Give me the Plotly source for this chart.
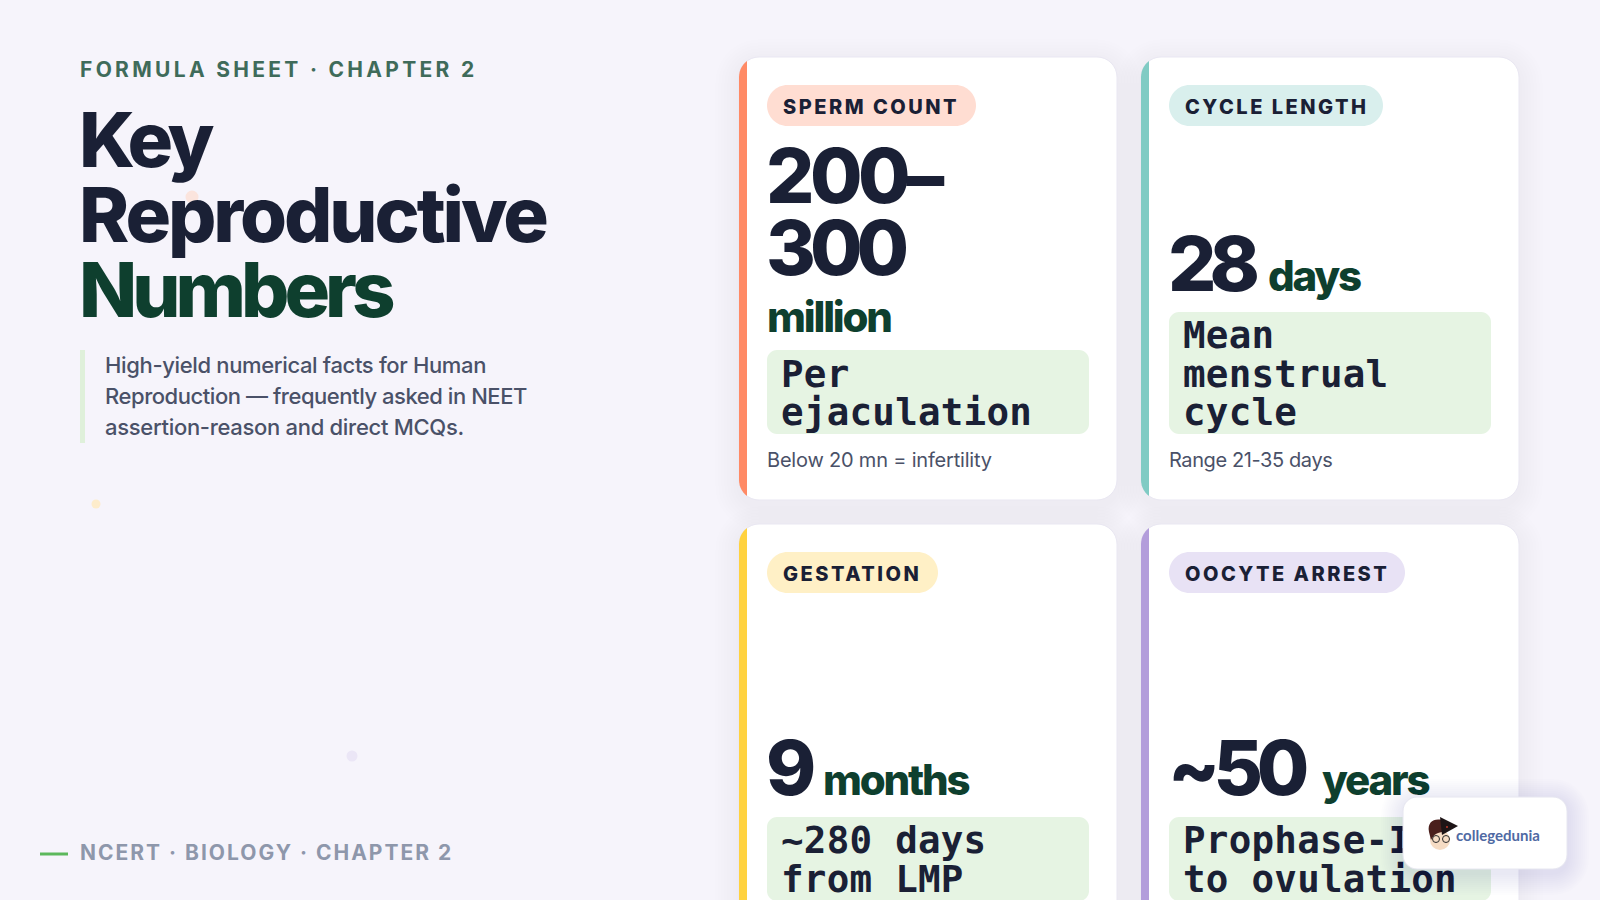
import json
import numpy as np
import plotly.graph_objects as go

# slide text
EYEBROW = "FORMULA SHEET · CHAPTER 2"
TITLE_LINES = ["Key", "Reproductive"]
TITLE_ACCENT = "Numbers"
SUBTITLE_LINES = ["High-yield numerical facts for Human",
                  "Reproduction — frequently asked in NEET",
                  "assertion-reason and direct MCQs."]
FOOTER = "NCERT · BIOLOGY · CHAPTER 2"
LOGO_TEXT = "collegedunia"

# card content
CARD_TAGS = ["SPERM COUNT", "CYCLE LENGTH", "GESTATION", "OOCYTE ARREST"]
CARD_VALUES = [["200–", "300"], ["28"], ["9"], ["~50"]]
CARD_UNITS = ["million", "days", "months", "years"]
CARD_DESCS = [["Per", "ejaculation"], ["Mean", "menstrual", "cycle"],
              ["~280 days", "from LMP"], ["Prophase-I", "to ovulation"]]
CARD_NOTES = ["Below 20 mn = infertility", "Range 21-35 days", "", ""]

# card styling and layout
ACCENTS = ["#ff8a65", "#80cbc4", "#ffd23f", "#b39ddb"]
PILLS = ["#ffddd2", "#d9efed", "#fff0c6", "#e8e2f5"]
PILL_RIGHT = [976, 1383, 938, 1405]
CARD_X = [739, 1141, 739, 1141]
CARD_Y = [57, 57, 524, 524]
VALUE_BASE = [[203, 275], [291], [795], [795]]
VALUE_TRACK = [[-4.5, -6], [-7], [0], [-6.5]]
UNIT_X = [767, 1268, 823, 1322]
UNIT_BASE = [332, 291, 795, 795]
NOTE_TRACK = [-0.2, -0.4, 0, 0]
BOX_TOP = [350, 312, 817, 817]
DESC_BASE = [[387, 425], [348, 387, 425], [853, 892], [853, 892]]

BG = "#f6f4fb"
INK = "#1a2035"
GREEN = "#0e3f2e"
SLATE = "#4a5168"
HEAD_FONT = "Inter"
MONO_FONT = "DejaVu Sans Mono"

fig = go.Figure()
shapes = []
spacing = []


def rounded(x0, y0, x1, y1, r):
    k = r * 0.45
    return (f"M {x0+r} {y0} L {x1-r} {y0} C {x1-k} {y0} {x1} {y0+k} {x1} {y0+r} "
            f"L {x1} {y1-r} C {x1} {y1-k} {x1-k} {y1} {x1-r} {y1} "
            f"L {x0+r} {y1} C {x0+k} {y1} {x0} {y1-k} {x0} {y1-r} "
            f"L {x0} {y0+r} C {x0} {y0+k} {x0+k} {y0} {x0+r} {y0} Z")


def add_round(x0, y0, x1, y1, r, fill, line=None, layer="below"):
    shapes.append(dict(type="path", path=rounded(x0, y0, x1, y1, r), fillcolor=fill, layer=layer,
                       line=dict(color=line or "rgba(0,0,0,0)", width=1 if line else 0)))


def add_dot(cx, cy, r, fill, layer="below"):
    shapes.append(dict(type="circle", x0=cx-r, x1=cx+r, y0=cy-r, y1=cy+r, fillcolor=fill,
                       line=dict(width=0), layer=layer))


def add_shadow(x0, y0, x1, y1, r, dy, reach, step=3, layer="below", alpha=0.004):
    # stacked translucent outlines stand in for a css box-shadow
    # alpha under 1/255 rounds away to nothing, so thin it with the step instead
    for s in range(reach, 0, -step):
        add_round(x0-s, y0-s+dy, x1+s, y1+s+dy, r+s, f"rgba(40,40,90,{alpha})", layer=layer)


def add_text(text, x, base, size, color, font=HEAD_FONT, weight=400, track=0):
    # middle-right text sits with its baseline a quarter em under the point
    fig.add_trace(go.Scatter(x=[x], y=[base - 0.25*size], mode="text", text=[text],
                             textposition="middle right", hoverinfo="skip", showlegend=False,
                             textfont=dict(family=font, size=size, color=color, weight=weight)))
    spacing.append(track)


# faint background dots
add_dot(192, 197, 6.5, "#fbe4dd")
add_dot(96, 504, 4.5, "#fdeccb")
add_dot(352, 756, 5.5, "#ebe6f6")

# left column
add_text(EYEBROW, 80, 77, 21, "#3f6b5a", weight=700, track=3.3)
add_text(TITLE_LINES[0], 79, 167, 76, INK, weight=800, track=-4.5)
add_text(TITLE_LINES[1], 79, 242, 76, INK, weight=800, track=-3.1)
add_text(TITLE_ACCENT, 79, 317, 76, GREEN, weight=800, track=-5)
shapes.append(dict(type="rect", x0=80, x1=85, y0=350, y1=443, fillcolor="#dff0da", line=dict(width=0)))
for line, base, track in zip(SUBTITLE_LINES, [373, 404, 435], [-0.35, -0.45, -0.3]):
    add_text(line, 105, base, 22, SLATE, weight=500, track=track)
shapes.append(dict(type="rect", x0=40, x1=68, y0=852.5, y1=855.5, fillcolor="#5cb85c", line=dict(width=0)))
add_text(FOOTER, 80, 860, 21, "#8e97ab", weight=700, track=2)

# shadows go first so no card gets darkened by its neighbour's
for i in range(4):
    add_shadow(CARD_X[i], CARD_Y[i], CARD_X[i]+378, CARD_Y[i]+443, 20, 6, 24)

# cards
for i in range(4):
    x0, y0 = CARD_X[i], CARD_Y[i]
    x1, y1 = x0 + 378, y0 + 443
    add_round(x0, y0, x1, y1, 20, "#ffffff", "#e9e7f2")
    # accent strip clipped by the card's corners
    a = np.linspace(np.pi, np.pi - np.arccos(0.6), 8)
    top = [(x0+20+20*np.cos(t), y0+20-20*np.sin(t)) for t in a]
    bot = [(px, y1-(py-y0)) for px, py in reversed(top)]
    pts = top + bot
    shapes.append(dict(type="path", fillcolor=ACCENTS[i], line=dict(width=0),
                       path="M " + " L ".join(f"{px:.1f} {py:.1f}" for px, py in pts) + " Z"))
    left = x0 + 28
    add_round(left, y0+28, PILL_RIGHT[i], y0+69, 20.5, PILLS[i])
    add_text(CARD_TAGS[i], left+16, y0+57, 20, INK, weight=800, track=2.5)
    for line, base, track in zip(CARD_VALUES[i], VALUE_BASE[i], VALUE_TRACK[i]):
        add_text(line, left-1, base, 76, INK, weight=800, track=track)
    add_text(CARD_UNITS[i], UNIT_X[i], UNIT_BASE[i], 42, GREEN, weight=800, track=-2.2)
    add_round(left, BOX_TOP[i], left+322, y0+377, 10, "#e6f4e3")
    for line, base in zip(CARD_DESCS[i], DESC_BASE[i]):
        add_text(line, left+14, base, 37.5, INK, font=MONO_FONT, weight=700, track=0.25)
    if CARD_NOTES[i]:
        add_text(CARD_NOTES[i], left, y0+410, 20, SLATE, weight=400, track=NOTE_TRACK[i])

# watermark badge sits over the card text
add_shadow(1403, 797, 1567, 869, 14, 4, 22, step=2, layer="above", alpha=0.006)
add_round(1403, 797, 1567, 869, 14, "#ffffff", "#e6e6f0", layer="above")
add_dot(1440, 840, 10, "#f6dcc4", layer="above")
shapes.append(dict(type="path", layer="above", fillcolor="#4a1f1c", line=dict(width=0),
                   path="M 1429 832 C 1427 822 1434 818 1442 820 L 1444 832 C 1438 832 1434 834 1431 840 Z"))
shapes.append(dict(type="path", layer="above", fillcolor="#1d1416", line=dict(width=0),
                   path="M 1440 817 L 1458 826 L 1442 835 Z"))
add_dot(1447, 827, 1, "#c0392b", layer="above")
for cx in [1436, 1446]:
    shapes.append(dict(type="circle", layer="above", x0=cx-3.5, x1=cx+3.5, y0=835.5, y1=842.5,
                       fillcolor="rgba(0,0,0,0)", line=dict(color="#2b2b2b", width=1)))

fig.add_annotation(text=LOGO_TEXT, x=1455, y=845, xref="x", yref="y", xanchor="left", yanchor="bottom",
                   showarrow=False, borderpad=0, font=dict(family="Lato", size=15, color="#4f69a3", weight=700))

fig.update_layout(
    width=1600, height=900, autosize=False,
    margin=dict(l=0, r=0, t=0, b=0),
    paper_bgcolor=BG, plot_bgcolor=BG,
    xaxis=dict(range=[0, 1600], visible=False, fixedrange=True),
    yaxis=dict(range=[900, 0], visible=False, fixedrange=True),
    showlegend=False,
    shapes=shapes,
)

# letter spacing is not a plotly font option, so it goes on after the plot is drawn
post = """
document.body.style.margin = '0';
document.body.style.overflow = 'hidden';
var tracks = %s;
document.querySelectorAll('.scatterlayer .trace').forEach(function (t, i) {
    t.querySelectorAll('text').forEach(function (n) { n.style.letterSpacing = tracks[i] + 'px'; });
});
""" % json.dumps(spacing)

fig.write_html("out.html", post_script=post, config=dict(displayModeBar=False, staticPlot=True))
